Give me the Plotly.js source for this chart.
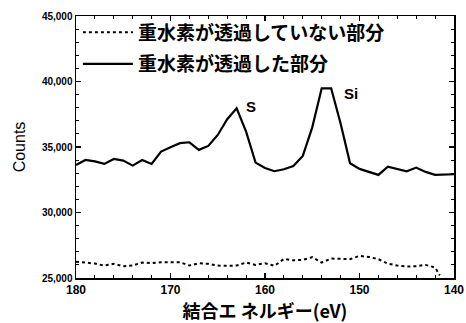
<!DOCTYPE html>
<html>
<head>
<meta charset="utf-8">
<script src="https://cdn.plot.ly/plotly-3.0.1.min.js"></script>
<style>html,body{margin:0;padding:0;background:#fff;}#chart{width:466px;height:323px;}</style>
</head>
<body>
<div id="chart"></div>
<script>
// Binding energy (eV) and counts
const energySolid = [180,179,178,177,176,175,174,173,172,171,170,169,168,167,166,165,164,163,162,161,160,159,158,157,156,155,154,153,152,151,150,149,148,147,146,145,144,143,142,141,140];
const countsSolid = [33630,34010,33900,33710,34090,33960,33580,34010,33710,34650,34980,35290,35360,34780,35080,35920,37120,37960,36170,33810,33400,33150,33300,33550,34320,36500,39480,39480,36800,33760,33330,33100,32870,33500,33300,33150,33430,33100,32870,32900,32920];
const energyDotted = [180,179,178,177,176,175,174,173,172,171,170,169,168,167,166,165,164,163,162,161,160,159,158,157,156,155,154,153,152,151,150,149,148,147,146,145,144,143,142,141.5];
const countsDotted = [26250,26200,26100,25950,26080,25900,25950,26180,26130,26210,26230,26200,25950,26130,26080,25950,25930,25950,26180,26000,26130,25930,26450,26350,26380,26590,26180,26480,26460,26440,26690,26600,26440,26100,25950,25870,25900,26000,25800,25200];
const seriesNames = ["重水素が透過していない部分", "重水素が透過した部分"];
const peakLabels = [{text:"S", x:161.5, y:38060}, {text:"Si", x:150.9, y:39120}];

const cjk = '"Noto Sans CJK JP", sans-serif';
const latin = '"Liberation Sans", Arial, sans-serif';

const traces = [
  {x: energyDotted, y: countsDotted, name: seriesNames[0], legendgroup: 'a', type: 'scatter', mode: 'lines',
   line: {color: '#000', width: 2, dash: 'dot'}},
  {x: energySolid, y: countsSolid, name: seriesNames[1], legendgroup: 'b', type: 'scatter', mode: 'lines',
   line: {color: '#000', width: 2.2}}
];

const layout = {
  width: 466, height: 323,
  margin: {l: 76, r: 12, t: 16, b: 45},
  paper_bgcolor: '#fff', plot_bgcolor: '#fff',
  showlegend: true,
  legend: {x: 0.005, y: 1.01, xanchor: 'left', yanchor: 'top', bgcolor: 'rgba(0,0,0,0)',
           font: {family: cjk, size: 19, color: '#000', weight: 'bold'},
           traceorder: 'grouped', tracegroupgap: 4, itemwidth: 50},
  xaxis: {
    range: [180, 140], dtick: 10, tick0: 180,
    showline: true, linecolor: '#000', linewidth: 1.5, mirror: 'ticks',
    ticks: 'inside', ticklen: 5, tickwidth: 1.3, tickcolor: '#000',
    minor: {dtick: 2, ticks: 'inside', ticklen: 3, tickcolor: '#000', tickwidth: 1},
    showgrid: false, zeroline: false,
    tickfont: {family: latin, size: 12, color: '#000', weight: 'bold'},
    title: {text: '結合エ ネルギー(eV)', font: {family: cjk, size: 18, color: '#000', weight: 'bold'}, standoff: 5}
  },
  yaxis: {
    range: [25000, 45000], dtick: 5000, tick0: 25000, tickformat: ',d',
    showline: true, linecolor: '#000', linewidth: 1.5, mirror: 'ticks',
    ticks: 'inside', ticklen: 5, tickwidth: 1.3, tickcolor: '#000',
    minor: {dtick: 1000, ticks: 'inside', ticklen: 3, tickcolor: '#000', tickwidth: 1},
    showgrid: false, zeroline: false,
    tickfont: {family: latin, size: 10, color: '#000', weight: 'bold'},
    title: {text: 'Counts', font: {family: latin, size: 16, color: '#000'}, standoff: 12}
  },
  annotations: peakLabels.map(p => ({x: p.x, y: p.y, text: p.text, showarrow: false,
    xref: 'x', yref: 'y', font: {family: latin, size: 15, color: '#000', weight: 'bold'}}))
};

Plotly.newPlot('chart', traces, layout, {displayModeBar: false, staticPlot: true});
</script>
</body>
</html>
